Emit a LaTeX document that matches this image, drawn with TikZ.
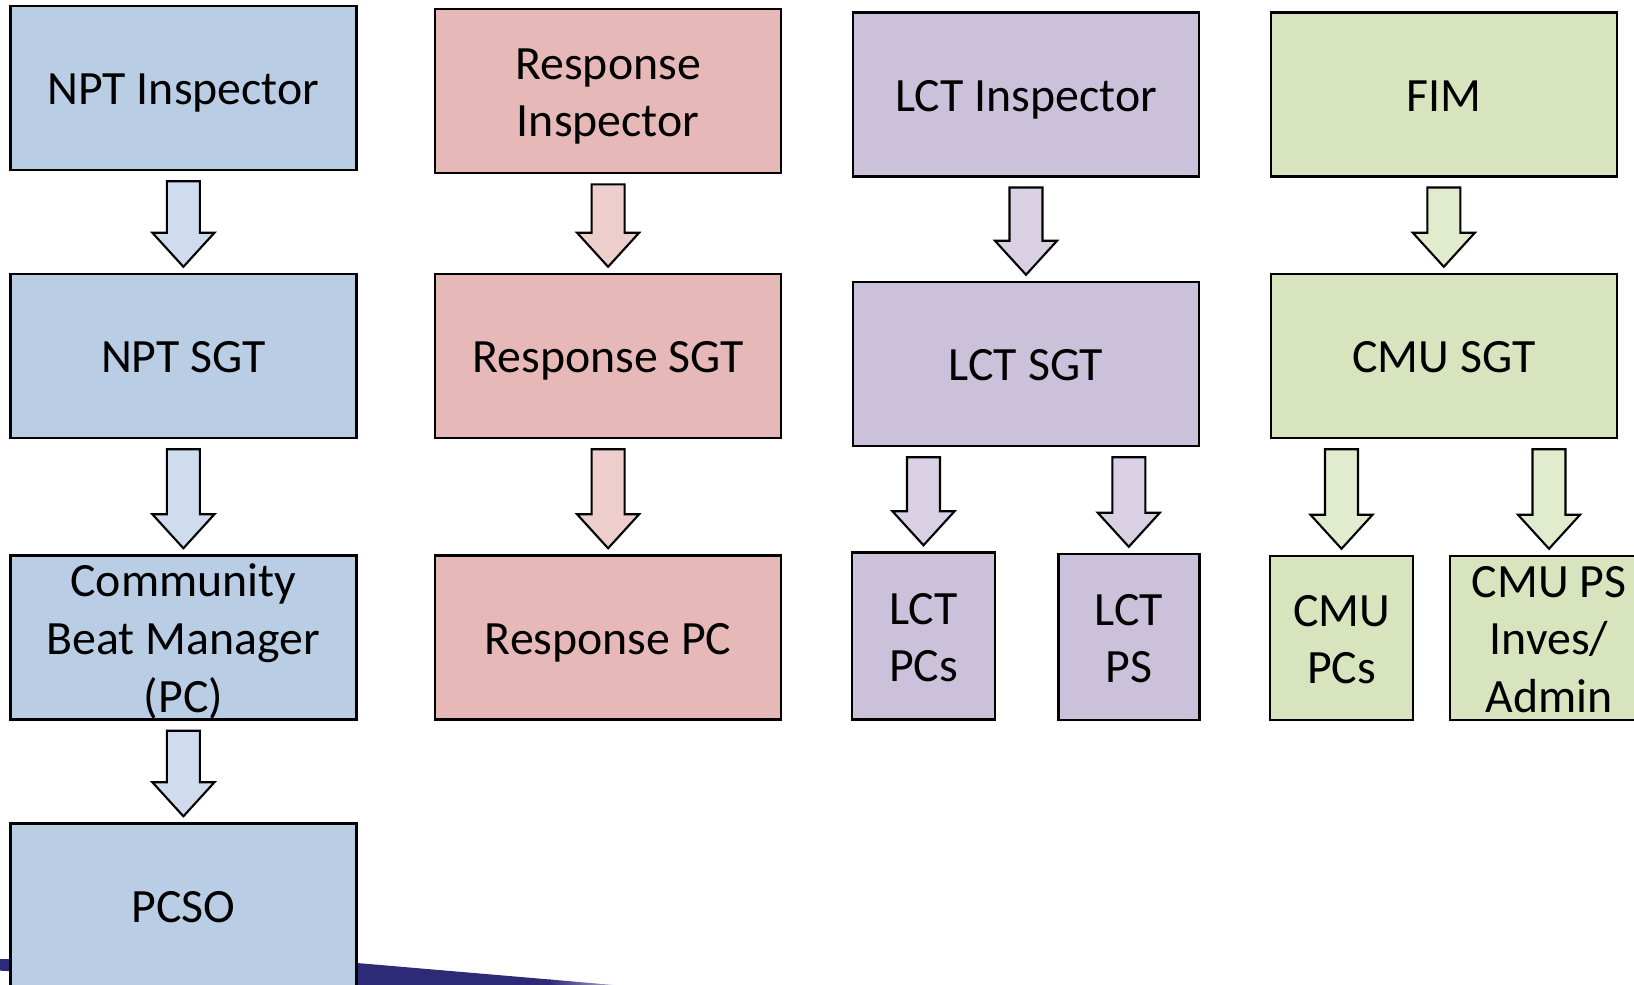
\documentclass[tikz,border=0pt]{standalone}
\usepackage{fontspec}
\setmainfont{Carlito}
\usetikzlibrary{calc,positioning}

\definecolor{nptblue}{HTML}{B9CDE5}
\definecolor{respred}{HTML}{E6B9B8}
\definecolor{lctpurple}{HTML}{CCC1DA}
\definecolor{cmugreen}{HTML}{D7E4BD}
\definecolor{swooshnavy}{HTML}{2D2A78}

% strut for the first line of a box
\newcommand{\topstrut}{\rule{0pt}{12.5pt}}

% block arrow from the bottom of #2 down to the top of #3
\newcommand{\blockarr}[3]{%
  \draw[#1] ($(#3.north |- #2.south)+(-0.165,-0.10)$) -- ++(0.33,0)
    -- ($(#3.north)+(0.165,0.40)$) -- ++(0.145,0) -- ($(#3.north)+(0,0.06)$)
    -- ($(#3.north)+(-0.31,0.40)$) -- ++(0.145,0) -- cycle;}

\begin{document}
\begin{tikzpicture}[node distance=2.68cm]
  \tikzset{
    box/.style={rectangle,draw=black,line width=0.7pt,minimum width=3.46cm,
      minimum height=1.64cm,inner sep=0pt,align=center,
      font=\fontsize{13.6}{16.4}\selectfont,
      execute at begin node={\topstrut},
      execute at end node={\rule[-2.9pt]{0pt}{2.9pt}}},
    nptbox/.style={box,fill=nptblue},
    respbox/.style={box,fill=respred},
    lctbox/.style={box,fill=lctpurple},
    cmubox/.style={box,fill=cmugreen},
    smallbox/.style={minimum width=1.43cm,minimum height=1.67cm},
    overfull/.style={inner ysep=-2pt},
    % arrow styles
    nptarr/.style={draw=black,line width=0.6pt,fill=nptblue!70!white},
    resparr/.style={draw=black,line width=0.6pt,fill=respred!70!white},
    lctarr/.style={draw=black,line width=0.6pt,fill=lctpurple!75!white},
    cmuarr/.style={draw=black,line width=0.6pt,fill=cmugreen!75!white},
    % row spacing
    lowrow/.style={node distance=2.815cm}
  }
  \clip (0,0) rectangle (16.34,-9.84);

  % swoosh at the bottom
  \fill[swooshnavy] (-0.1,-9.59) -- (3.57,-9.63) -- (5.5,-9.795) -- (5.5,-10.2)
    -- (3.57,-10.2) -- (3.57,-9.92) -- (-0.1,-9.70) -- cycle;
  \shade[left color=swooshnavy,right color=white] (5.49,-9.794) -- (6.6,-9.89)
    -- (6.6,-10.2) -- (5.49,-10.2) -- cycle;

  % NPT
  \node [nptbox] (npti) at (1.834,-0.88) {NPT Inspector};
  \node [nptbox] (nptsgt) [below of=npti] {NPT SGT};
  \node [nptbox,lowrow,overfull] (cbm) [below of=nptsgt] {\topstrut Community\\Beat Manager\\(PC)};
  \node [nptbox] (pcso) [below of=cbm] {PCSO};

  % Response
  \node [respbox] (respi) at (6.081,-0.912) {\topstrut Response\\Inspector};
  \node [respbox] (respsgt) at (6.081,-3.56) {Response SGT};
  \node [respbox,lowrow] (resppc) [below of=respsgt] {Response PC};

  % LCT
  \node [lctbox] (lcti) at (10.26,-0.943) {LCT Inspector};
  \node [lctbox] (lctsgt) at (10.26,-3.64) {LCT SGT};
  \node [lctbox,smallbox] (lctpcs) at (9.235,-6.36) {\topstrut LCT\\PCs};
  \node [lctbox,smallbox,minimum width=1.41cm,minimum height=1.66cm] (lctps) at (11.288,-6.37) {\topstrut LCT\\PS};

  % CMU
  \node [cmubox] (fim) at (14.438,-0.943) {FIM};
  \node [cmubox] (cmusgt) at (14.438,-3.56) {CMU SGT};
  \node [cmubox,smallbox,minimum height=1.64cm] (cmupcs) at (13.415,-6.38) {\topstrut CMU\\PCs};
  \node [cmubox,smallbox,overfull,minimum width=1.98cm,minimum height=1.64cm] (cmups) at (15.49,-6.38) {\topstrut CMU PS\\Inves/\\Admin};

  % Arrows
  \blockarr{nptarr}{npti}{nptsgt}
  \blockarr{nptarr}{nptsgt}{cbm}
  \blockarr{nptarr}{cbm}{pcso}
  \blockarr{resparr}{respi}{respsgt}
  \blockarr{resparr}{respsgt}{resppc}
  \blockarr{lctarr}{lcti}{lctsgt}
  \blockarr{lctarr}{lctsgt}{lctpcs}
  \blockarr{lctarr}{lctsgt}{lctps}
  \blockarr{cmuarr}{fim}{cmusgt}
  \blockarr{cmuarr}{cmusgt}{cmupcs}
  \blockarr{cmuarr}{cmusgt}{cmups}
\end{tikzpicture}
\end{document}
